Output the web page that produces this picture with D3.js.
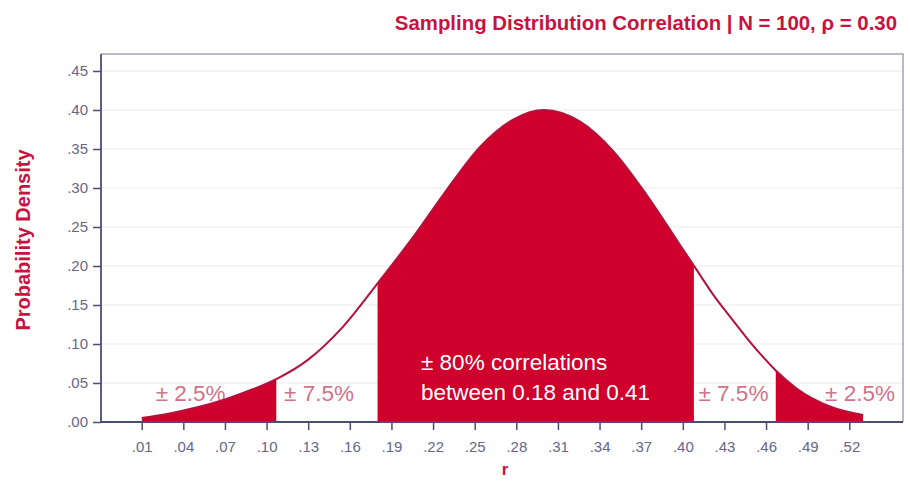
<!DOCTYPE html>
<html>
<head>
<meta charset="utf-8">
<script src="https://cdn.jsdelivr.net/npm/d3@7"></script>
<style>
  html, body { margin: 0; padding: 0; background: #ffffff; }
  svg { display: block; }
  text { font-family: "Liberation Sans", Arial, sans-serif; }
</style>
</head>
<body>
<svg id="chart" width="910" height="491"></svg>
<script>
// Sampling distribution of the correlation r (N = 100, rho = 0.30)
const rValues   = [0.010, 0.030, 0.050, 0.070, 0.090, 0.107, 0.130, 0.155, 0.181, 0.206, 0.230, 0.254, 0.278, 0.300,
                   0.326, 0.350, 0.374, 0.398, 0.410, 0.422, 0.434, 0.446, 0.456, 0.467, 0.482, 0.506, 0.530];
const densities = [0.005, 0.011, 0.019, 0.029, 0.042, 0.055, 0.080, 0.122, 0.180, 0.238, 0.298, 0.353, 0.388, 0.400,
                   0.385, 0.347, 0.291, 0.227, 0.195, 0.163, 0.135, 0.108, 0.087, 0.066, 0.043, 0.020, 0.009];

// shaded tails (2.5% each) and the central 80% region
const shadedLo = [0.010, 0.180, 0.467];
const shadedHi = [0.107, 0.408, 0.530];

const xTicks = [0.01, 0.04, 0.07, 0.10, 0.13, 0.16, 0.19, 0.22, 0.25, 0.28, 0.31, 0.34, 0.37, 0.40, 0.43, 0.46, 0.49, 0.52];
const yTicks = [0, 0.05, 0.10, 0.15, 0.20, 0.25, 0.30, 0.35, 0.40, 0.45];

const tailLabels   = ["± 2.5%", "± 7.5%", "± 7.5%", "± 2.5%"];
const tailLabelR   = [0.0453, 0.1378, 0.4365, 0.5277];
const centerLines  = ["± 80% correlations", "between 0.18 and 0.41"];

const titleText = "Sampling Distribution Correlation | N = 100, ρ = 0.30";

const RED = "#d0002c";
const LINE = "#b3123c";
const TITLE = "#c8123f";
const AXIS = "#4c4c72";
const TICKTXT = "#66668a";

const svg = d3.select("#chart");

const frame = { left: 101, right: 903, top: 54, bottom: 422 };

const x = d3.scaleLinear().domain([0.01, 0.52]).range([141.7, 849.3]);
const y = d3.scaleLinear().domain([0, 0.45]).range([422, 71]);

const pts = rValues.map((r, i) => ({ r, d: densities[i] }));
const fmt = v => d3.format(".2f")(v).replace(/^0/, "");

// gridlines
svg.append("g").selectAll("line").data(yTicks.slice(1)).join("line")
  .attr("x1", frame.left).attr("x2", frame.right)
  .attr("y1", d => y(d)).attr("y2", d => y(d))
  .attr("stroke", "#ebebee").attr("stroke-width", 1.2);

// frame (top/right lighter)
svg.append("path")
  .attr("d", `M${frame.left},${frame.top}H${frame.right}V${frame.bottom}`)
  .attr("fill", "none").attr("stroke", "#a4a4b4").attr("stroke-width", 1.5);

// shaded regions
const defs = svg.append("defs");
shadedLo.forEach((lo, i) => {
  defs.append("clipPath").attr("id", "clip" + i)
    .append("rect")
    .attr("x", x(lo)).attr("y", frame.top)
    .attr("width", x(shadedHi[i]) - x(lo)).attr("height", frame.bottom - frame.top);
});

const area = d3.area().x(p => x(p.r)).y0(y(0)).y1(p => y(p.d)).curve(d3.curveMonotoneX);
const line = d3.line().x(p => x(p.r)).y(p => y(p.d)).curve(d3.curveMonotoneX);

// tail labels (drawn under the fill so the curve edges overlap them)
svg.append("g").selectAll("text").data(tailLabels).join("text")
  .attr("x", (d, i) => x(tailLabelR[i]))
  .attr("y", 401)
  .attr("text-anchor", "middle")
  .attr("font-size", 22.5)
  .attr("fill", "#d27188")
  .text(d => d);

shadedLo.forEach((lo, i) => {
  svg.append("path").datum(pts)
    .attr("clip-path", `url(#clip${i})`)
    .attr("d", area)
    .attr("fill", RED);
});

svg.append("path").datum(pts)
  .attr("d", line)
  .attr("fill", "none")
  .attr("stroke", LINE)
  .attr("stroke-width", 2);

// central label
svg.append("g").selectAll("text").data(centerLines).join("text")
  .attr("x", 421)
  .attr("y", (d, i) => 370 + i * 30)
  .attr("font-size", 22.5)
  .attr("fill", "#ffffff")
  .text(d => d);

// axes
const xAxis = d3.axisBottom(x).tickValues(xTicks).tickFormat(fmt).tickSize(8).tickPadding(11).tickSizeOuter(0);
const gx = svg.append("g").attr("transform", `translate(0,${frame.bottom})`).call(xAxis);
gx.select(".domain").remove();
gx.selectAll(".tick line").attr("stroke", AXIS).attr("stroke-width", 1.5);
gx.selectAll(".tick text").attr("fill", TICKTXT).attr("font-size", 15)
  .attr("font-family", "'Liberation Sans Narrow', 'Liberation Sans', Arial, sans-serif");

const yAxis = d3.axisLeft(y).tickValues(yTicks).tickFormat(fmt).tickSize(8).tickPadding(5).tickSizeOuter(0);
const gy = svg.append("g").attr("transform", `translate(${frame.left},0)`).call(yAxis);
gy.select(".domain").remove();
gy.selectAll(".tick line").attr("stroke", AXIS).attr("stroke-width", 1.5);
gy.selectAll(".tick text").attr("fill", TICKTXT).attr("font-size", 15)
  .attr("font-family", "'Liberation Sans Narrow', 'Liberation Sans', Arial, sans-serif");

// axis lines
svg.append("line").attr("x1", frame.left).attr("x2", frame.left)
  .attr("y1", frame.top).attr("y2", frame.bottom)
  .attr("stroke", AXIS).attr("stroke-width", 1.8);
svg.append("line").attr("x1", frame.left).attr("x2", frame.right)
  .attr("y1", frame.bottom).attr("y2", frame.bottom)
  .attr("stroke", AXIS).attr("stroke-width", 1.8);

// titles
svg.append("text")
  .attr("x", 897).attr("y", 30)
  .attr("text-anchor", "end")
  .attr("font-size", 20.4).attr("font-weight", "bold")
  .attr("fill", TITLE)
  .text(titleText);

svg.append("text")
  .attr("transform", "translate(30,240) rotate(-90)")
  .attr("text-anchor", "middle")
  .attr("font-size", 20).attr("font-weight", "bold")
  .attr("fill", TITLE)
  .text("Probability Density");

svg.append("text")
  .attr("x", 505).attr("y", 475)
  .attr("text-anchor", "middle")
  .attr("font-size", 17).attr("font-weight", "bold")
  .attr("fill", TITLE)
  .text("r");
</script>
</body>
</html>
